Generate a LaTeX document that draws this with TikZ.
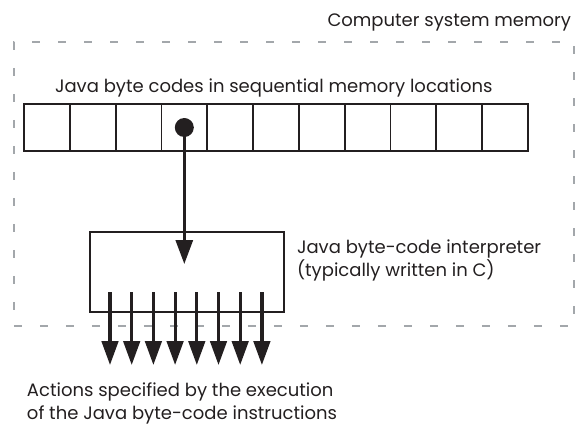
\documentclass[tikz,border=0pt]{standalone}
\usepackage{fontspec}
\setmainfont{Poppins}
\usetikzlibrary{positioning,arrows.meta,calc}

\definecolor{ink}{HTML}{231F20}
\definecolor{memgray}{HTML}{A3A7AB}

\begin{document}
\begin{tikzpicture}[x=1pt,y=-1pt,
    lbl/.style={inner sep=0pt, outer sep=0pt, text=ink, font=\fontsize{18}{25}\selectfont, align=left},
    cell/.style={rectangle, draw=ink, line width=1.8pt, minimum width=45.8pt, minimum height=47pt, inner sep=0pt, outer sep=0pt},
    ptrarrow/.style={-{Triangle[length=24pt,width=17pt]}, line width=3pt, draw=ink, fill=ink},
    outarrow/.style={-{Triangle[length=24pt,width=16.5pt]}, line width=3.2pt, draw=ink, fill=ink}]
    \useasboundingbox (0,0) rectangle (575,426);

    %% Memory region
    \node[rectangle, draw=memgray, line width=1.6pt, dash pattern=on 8pt off 18pt,
          minimum width=560pt, minimum height=284pt, anchor=north west] (mem) at (13,41) {};
    \node[lbl, anchor=base east] (memlbl) at (571,26) {Computer system memory};

    %% Byte codes
    \node[lbl, anchor=base west] (seqlbl) at (55,92) {Java byte codes in sequential memory locations};
    \foreach \i in {0,...,10}
        \node[cell, anchor=north west] (c\i) at ({24+45.8*\i},104) {};
    \node[circle, fill=ink, inner sep=0pt, minimum size=19pt] (ptr) at (c3.center) {};

    %% Interpreter
    \node[rectangle, draw=ink, line width=1.8pt, minimum width=194pt, minimum height=80pt,
          anchor=north west] (interp) at (89,231) {};
    \node[lbl, font=\fontsize{18}{23}\selectfont, anchor=base west] (interplbl) at (297,276) {Java byte-code interpreter\\(typically written in C)};
    \coordinate (hit) at (ptr |- 0,264);
    \draw[ptrarrow] (ptr.center) -- (hit);

    %% Actions
    \foreach \i in {0,...,7} {
        \coordinate (o\i) at ({110+21.7*\i},292);
        \coordinate (t\i) at ({110+21.7*\i},365);
        \draw[outarrow] (o\i) -- (t\i);
    }
    \node[lbl, font=\fontsize{18}{23}\selectfont, anchor=base west] (actlbl) at (27,419) {Actions specified by the execution\\of the Java byte-code instructions};
\end{tikzpicture}
\end{document}
